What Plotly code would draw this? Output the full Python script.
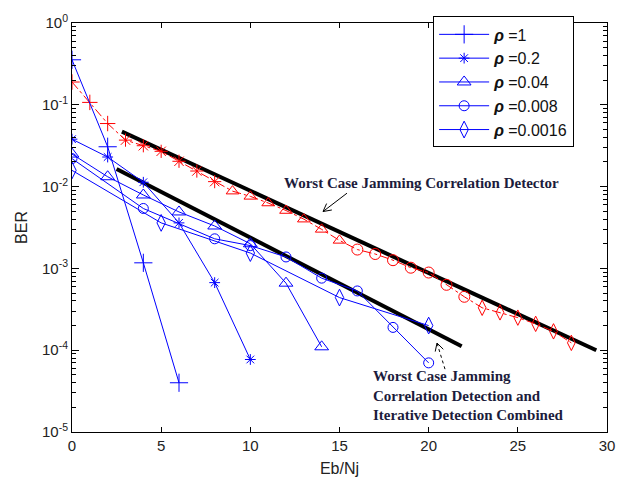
import math
import plotly.graph_objects as go

# ---------------- data ----------------
x_r1 = [0, 2, 4, 6]
ber_r1 = [0.355, 0.0307, 1.17e-3, 4.0e-5]

x_r02 = [0, 2, 4, 6, 8, 10]
ber_r02 = [0.038, 0.023, 0.0113, 0.0036, 6.7e-4, 7.7e-5]

x_r004 = [0, 2, 4, 6, 8, 10, 12, 14]
ber_r004 = [0.025, 0.0132, 0.0079, 0.0049, 0.0033, 0.0020, 6.6e-4, 1.1e-4]

x_r0008 = [0, 4, 8, 10, 12, 14, 16, 18, 20]
ber_r0008 = [0.022, 0.0054, 0.0023, 0.0019, 0.00138, 7.6e-4, 5.3e-4, 1.9e-4, 7.0e-5]

x_r00016 = [0, 5, 10, 15, 20]
ber_r00016 = [0.0158, 0.0036, 0.00154, 4.4e-4, 2.0e-4]

x_red = list(range(29))
ber_red = [0.19, 0.107, 0.059, 0.037, 0.0316, 0.027, 0.0204, 0.0155, 0.0115,
           0.0088, 0.0076, 0.0063, 0.0051, 0.0040, 0.0030, 0.0022,
           0.0017, 0.0015, 0.00126, 0.00102, 0.00089, 6.3e-4, 4.5e-4,
           3.3e-4, 2.9e-4, 2.5e-4, 2.1e-4, 1.7e-4, 1.23e-4]
red_symbols = (["cross-thin-open"] * 3 + ["asterisk-open"] * 6 +
               ["triangle-up-open"] * 7 + ["circle-open"] * 7 +
               ["diamond-tall-open"] * 6)

x_bound1 = [2.8, 29.4]
ber_bound1 = [0.047, 1.0e-4]
x_bound2 = [2.5, 21.85]
ber_bound2 = [0.0164, 1.12e-4]

legend_names = ["<b><i>ρ</i></b> =1", "<b><i>ρ</i></b> =0.2", "<b><i>ρ</i></b> =0.04",
                "<b><i>ρ</i></b> =0.008", "<b><i>ρ</i></b> =0.0016"]
ytick_vals = [1e-5, 1e-4, 1e-3, 1e-2, 1e-1, 1]
ytick_text = ["10<sup>-5</sup>", "10<sup>-4</sup>", "10<sup>-3</sup>",
              "10<sup>-2</sup>", "10<sup>-1</sup>", "10<sup>0</sup>"]
minor_vals = [m * 10.0 ** k for k in range(-5, 0) for m in range(2, 10)]

BLUE = "#0000ff"
RED = "#ff0000"

fig = go.Figure()

# black bound lines
for xs, ys in [(x_bound1, ber_bound1), (x_bound2, ber_bound2)]:
    fig.add_trace(go.Scatter(x=xs, y=ys, mode="lines", showlegend=False,
                             line=dict(color="black", width=4)))

# red combined curve
fig.add_trace(go.Scatter(x=x_red, y=ber_red, mode="lines+markers", showlegend=False,
                         line=dict(color=RED, width=1, dash="dashdot"),
                         marker=dict(symbol=red_symbols, size=11, color=RED,
                                     line=dict(color=RED, width=1))))

blue_series = [
    (x_r1, ber_r1, "cross-thin-open", 13),
    (x_r02, ber_r02, "asterisk-open", 9),
    (x_r004, ber_r004, "triangle-up-open", 12),
    (x_r0008, ber_r0008, "circle-open", 10),
    (x_r00016, ber_r00016, "diamond-tall-open", 12),
]
for (xs, ys, sym, sz), name in zip(blue_series, legend_names):
    fig.add_trace(go.Scatter(x=xs, y=ys, mode="lines+markers", name=name,
                             line=dict(color=BLUE, width=1),
                             marker=dict(symbol=sym, size=sz, color=BLUE,
                                         line=dict(color=BLUE, width=1))))

axis_font = dict(family="Liberation Sans, Arial", size=15, color="#222")

fig.update_layout(
    width=632, height=486,
    margin=dict(l=72, r=25, t=14, b=49),
    paper_bgcolor="white", plot_bgcolor="white",
    font=dict(family="Liberation Sans, Arial", size=15, color="#222"),
    xaxis=dict(range=[0, 30], tickvals=[0, 5, 10, 15, 20, 25, 30],
               ticks="inside", ticklen=5, tickcolor="black", mirror="ticks",
               showline=True, linecolor="black", linewidth=1, showgrid=False,
               zeroline=False, tickfont=axis_font,
               title=dict(text="Eb/Nj", font=dict(size=16), standoff=9)),
    yaxis=dict(type="log", range=[-5, 0], tickvals=ytick_vals, ticktext=ytick_text,
               ticks="inside", ticklen=7, tickcolor="black", mirror="ticks",
               showline=True, linecolor="black", linewidth=1, showgrid=False,
               zeroline=False, tickfont=axis_font,
               minor=dict(tickmode="array", tickvals=minor_vals, ticks="inside",
                          ticklen=4, tickcolor="black", showgrid=False),
               title=dict(text="BER", font=dict(size=16), standoff=10)),
    legend=dict(x=0.675, y=1.016, xanchor="left", yanchor="top",
                bgcolor="white", bordercolor="black", borderwidth=1,
                font=dict(family="Liberation Sans, Arial", size=16, color="#111"),
                itemwidth=50, tracegroupgap=0),
)

ann_font = dict(family="Liberation Serif, Times New Roman", size=15, color="#1c1c3c")


def px2paper(px, py):
    return (px - 72) / 535.0, (437 - py) / 423.0


def arrow(tail, head, dash="solid", head_len=9, spread=28):
    x0, y0 = px2paper(*tail)
    x1, y1 = px2paper(*head)
    fig.add_shape(type="line", xref="paper", yref="paper", x0=x0, y0=y0, x1=x1, y1=y1,
                  line=dict(color="black", width=1, dash=dash))
    ang = math.atan2(tail[1] - head[1], tail[0] - head[0])
    for s in (-1, 1):
        a = ang + s * math.radians(spread)
        ex, ey = px2paper(head[0] + head_len * math.cos(a), head[1] + head_len * math.sin(a))
        fig.add_shape(type="line", xref="paper", yref="paper", x0=x1, y0=y1, x1=ex, y1=ey,
                      line=dict(color="black", width=1))


tx, ty = px2paper(421, 179)
fig.add_annotation(x=tx, y=ty, xref="paper", yref="paper", showarrow=False,
                   text="<b>Worst Case Jamming Correlation Detector</b>",
                   font=ann_font, xanchor="center", yanchor="middle")
arrow((347, 190), (323, 209))

tx2, ty2 = px2paper(371, 369)
fig.add_annotation(x=tx2, y=ty2, xref="paper", yref="paper", showarrow=False,
                   text="<b>Worst Case Jamming<br>Correlation Detection and<br>Iterative Detection Combined</b>",
                   font=ann_font, xanchor="left", yanchor="top", align="left")
arrow((445, 372), (437, 345), dash="dot")

fig.write_html("out.html")
